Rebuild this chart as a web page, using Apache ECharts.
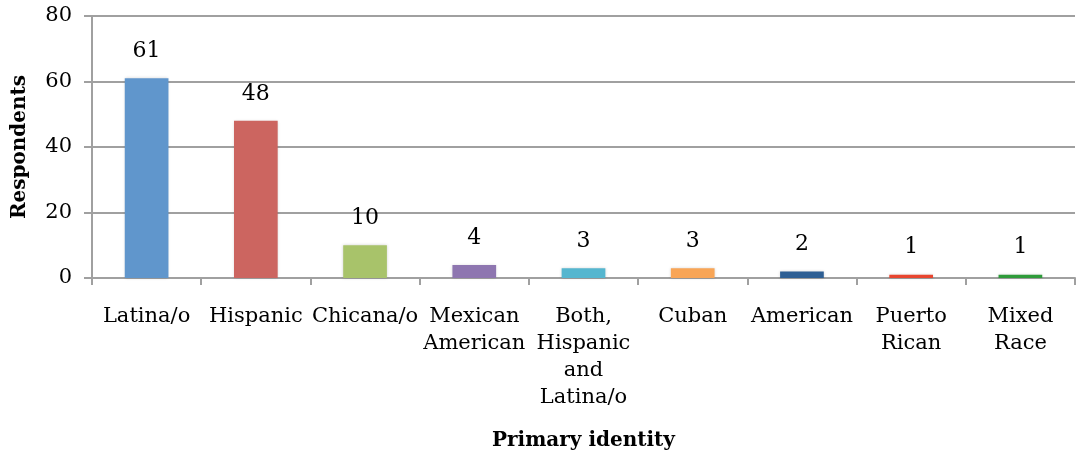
<!DOCTYPE html>
<html>
<head>
<meta charset="utf-8">
<script src="https://cdn.jsdelivr.net/npm/echarts@6/dist/echarts.min.js"></script>
<style>
  html, body { margin: 0; padding: 0; background: #fff; }
  #chart { width: 1078px; height: 456px; }
</style>
</head>
<body>
<div id="chart"></div>
<script>
const categories = ['Latina/o', 'Hispanic', 'Chicana/o', 'Mexican\nAmerican', 'Both,\nHispanic\nand\nLatina/o', 'Cuban', 'American', 'Puerto\nRican', 'Mixed\nRace'];
const respondents = [61, 48, 10, 4, 3, 3, 2, 1, 1];
const barColors = ['#6096CC', '#CC6560', '#A8C36A', '#8E76B0', '#55B6CF', '#F8A556', '#2E5F94', '#E8452F', '#2E9B3A'];
const yTicks = [0, 20, 40, 60, 80];

const font = '"DejaVu Serif", "Liberation Serif", serif';
const chart = echarts.init(document.getElementById('chart'));

const option = {
  animation: false,
  textStyle: { fontFamily: font },
  grid: { left: 92, right: 3, top: 16, bottom: 169 },
  xAxis: {
    type: 'category',
    data: categories,
    name: 'Primary identity',
    nameLocation: 'middle',
    nameGap: 153,
    nameTextStyle: { fontFamily: font, fontSize: 20, fontWeight: 'bold', color: '#000' },
    axisLine: { lineStyle: { color: '#a0a0a0', width: 2 } },
    axisTick: { show: true, length: 7, lineStyle: { color: '#a0a0a0', width: 2 } },
    axisLabel: {
      interval: 0, margin: 25, color: '#000', fontFamily: font, fontSize: 21, lineHeight: 27
    }
  },
  yAxis: {
    type: 'value',
    min: yTicks[0],
    max: yTicks[yTicks.length - 1],
    interval: 20,
    name: 'Respondents',
    nameLocation: 'middle',
    nameGap: 62,
    nameTextStyle: { fontFamily: font, fontSize: 20, fontWeight: 'bold', color: '#000' },
    axisLine: { show: true, lineStyle: { color: '#a0a0a0', width: 2 } },
    axisTick: { show: true, length: 8, lineStyle: { color: '#a0a0a0', width: 2 } },
    splitLine: { lineStyle: { color: '#a0a0a0', width: 2 } },
    axisLabel: { margin: 20, color: '#000', fontFamily: font, fontSize: 21 }
  },
  series: [{
    type: 'bar',
    barWidth: '40%',
    data: respondents.map((v, i) => ({
      value: v,
      itemStyle: { color: barColors[i] }
    })),
    itemStyle: {
      borderWidth: 0,
      shadowColor: 'rgba(0,0,0,0.18)',
      shadowBlur: 3
    },
    label: {
      show: true,
      position: 'top',
      distance: 16,
      color: '#000',
      fontFamily: font,
      fontSize: 22
    }
  }]
};

chart.setOption(option);
</script>
</body>
</html>
